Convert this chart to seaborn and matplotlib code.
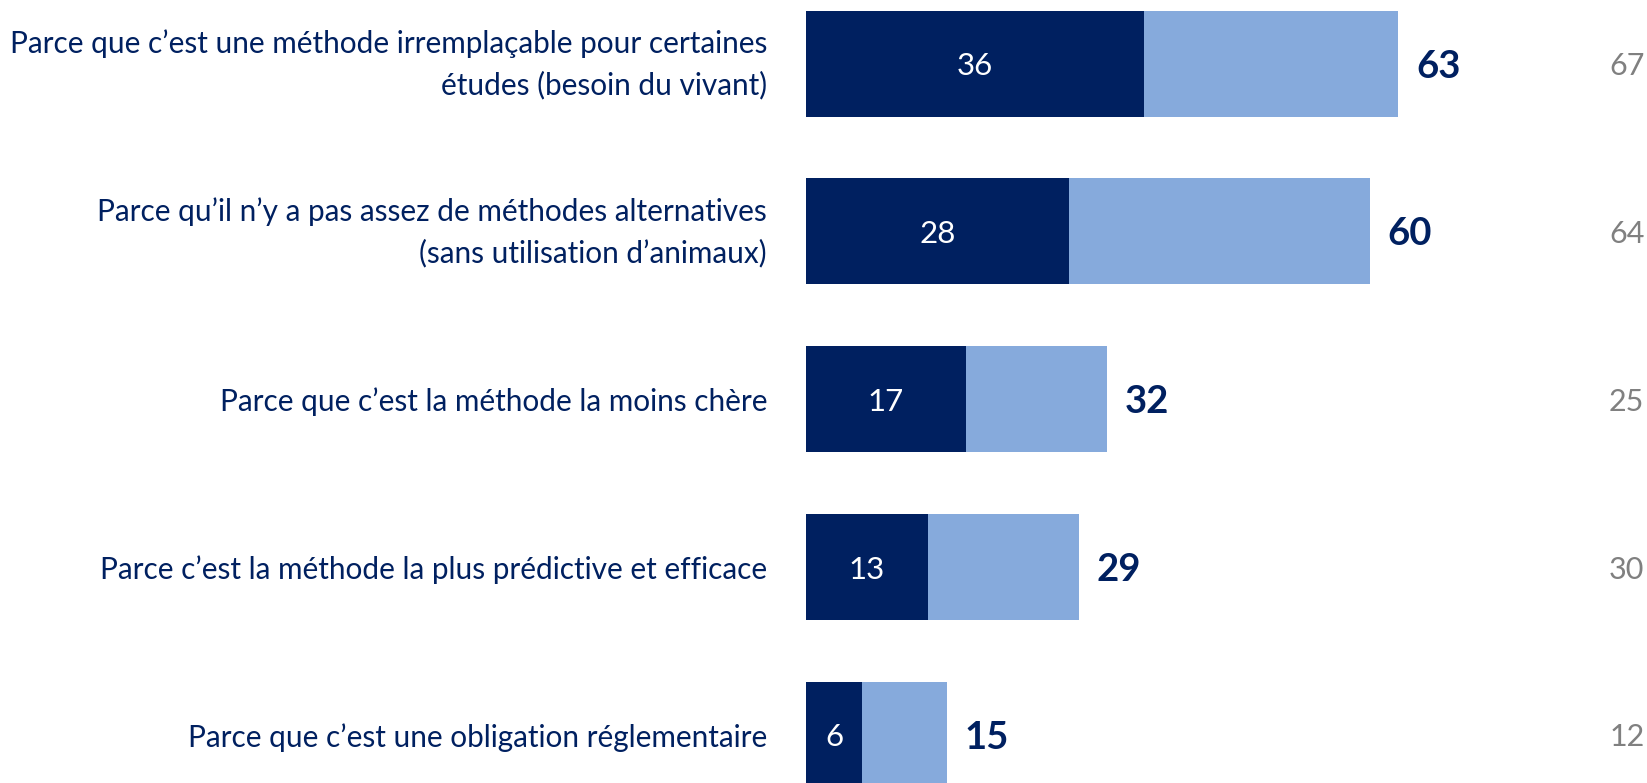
import matplotlib
matplotlib.use("Agg")
import matplotlib.pyplot as plt
import matplotlib.transforms as mtransforms
import seaborn as sns
import pandas as pd

# values
raisons = [
    "Parce que c\u2019est une méthode irremplaçable pour certaines\nétudes (besoin du vivant)",
    "Parce qu\u2019il n\u2019y a pas assez de méthodes alternatives\n(sans utilisation d\u2019animaux)",
    "Parce que c\u2019est la méthode la moins chère",
    "Parce c\u2019est la méthode la plus prédictive et efficace",
    "Parce que c\u2019est une obligation réglementaire",
]
premier = [36, 28, 17, 13, 6]
total = [63, 60, 32, 29, 15]
precedent = [67, 64, 25, 30, 12]

navy = "#002060"
light = "#86AADC"
grey = "#808080"

sns.set_theme(style="white")
plt.rcParams["font.family"] = ["Lato", "DejaVu Sans"]

df = pd.DataFrame({"raison": raisons, "premier": premier, "total": total})

fig = plt.figure(figsize=(16.47, 7.83), dpi=100)
ax = fig.add_axes([806 / 1647, 0, 1 - 806 / 1647, 1])

sns.barplot(data=df, y="raison", x="total", orient="h", color=light,
            width=0.632, saturation=1, linewidth=0, ax=ax)
sns.barplot(data=df, y="raison", x="premier", orient="h", color=navy,
            width=0.632, saturation=1, linewidth=0, ax=ax)

ax.set_xlim(0, 89.5)
ax.set_ylim(4.287, -0.379)

for i in range(len(raisons)):
    ax.text(premier[i] / 2, i, str(premier[i]), color="white", fontsize=22.5,
            ha="center", va="center_baseline")
    ax.annotate(str(total[i]), (total[i], i), xytext=(18, 0),
                textcoords="offset pixels", color=navy, fontsize=27.5,
                fontweight="bold", ha="left", va="center_baseline")
    ax.text(0.997, i, str(precedent[i]), color=grey, fontsize=22,
            ha="right", va="center_baseline", transform=ax.get_yaxis_transform())

ax.set_xlabel("")
ax.set_ylabel("")
ax.set_xticks([])
ax.tick_params(axis="y", length=0, pad=28)
for lab in ax.get_yticklabels():
    lab.set_color(navy)
    lab.set_fontsize(21.4)
    lab.set_multialignment("right")
    lab.set_linespacing(1.55)
    if "\n" in lab.get_text():
        lab.set_transform(lab.get_transform() + mtransforms.ScaledTranslation(0, 0.08, fig.dpi_scale_trans))
sns.despine(ax=ax, left=True, bottom=True)

fig.savefig("out.png", dpi=100)
